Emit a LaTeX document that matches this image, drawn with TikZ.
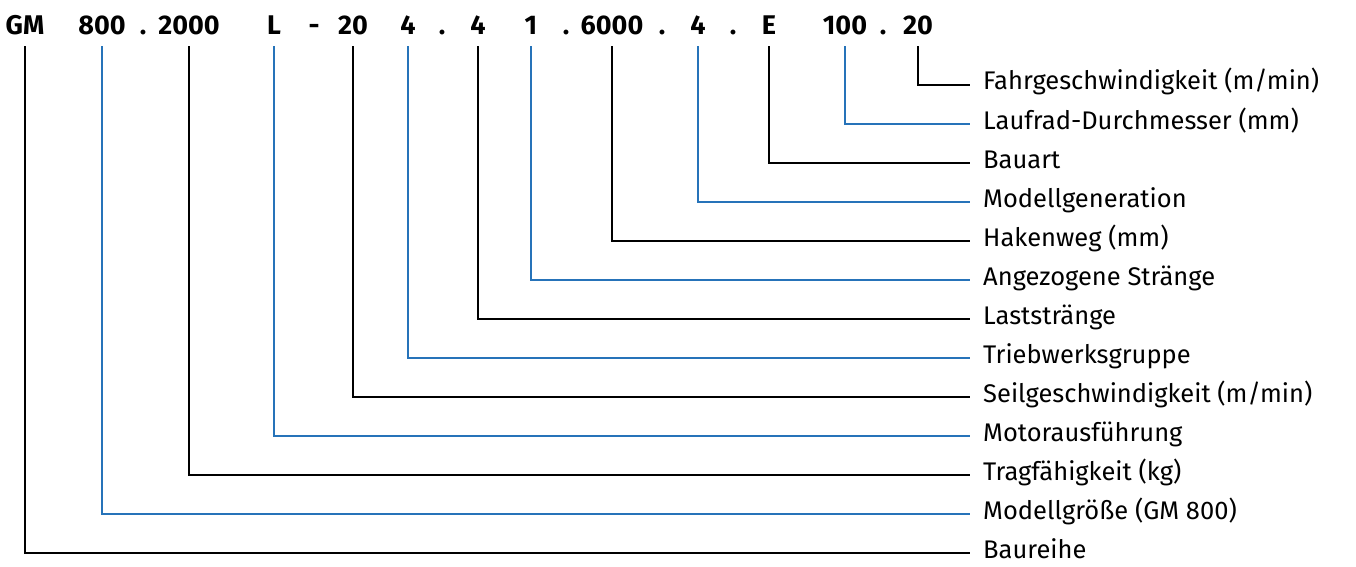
\documentclass[tikz,border=0pt]{standalone}
\usepackage{fontspec}
\setmainfont{Fira Sans}
\definecolor{linkblue}{RGB}{38,115,185}
\begin{document}
\begin{tikzpicture}[x=1pt,y=-1pt,
  code/.style={font=\bfseries\fontsize{27}{27}\selectfont,anchor=base,inner xsep=0pt,inner ysep=11pt,text depth=0pt},
  lbl/.style={font=\fontsize{25.5}{25.5}\selectfont,anchor=west,inner xsep=13pt,inner ysep=0pt,text height=17pt,text depth=7pt},
  blk/.style={draw=black,line width=1.3pt},
  blu/.style={draw=linkblue,line width=1.3pt}]
\useasboundingbox (0,0) rectangle (1356,567);
% type code
\node[code] (gm) at (25,35) {GM};
\node[code] (size) at (102,35) {800};
\node[code] (dotA) at (143,35) {.};
\node[code] (load) at (189,35) {2000};
\node[code] (motor) at (274,35) {L};
\node[code] (dash) at (314,35) {-};
\node[code] (rope) at (353,35) {20};
\node[code] (group) at (408,35) {4};
\node[code] (dotB) at (442,35) {.};
\node[code] (falls) at (478,35) {4};
\node[code] (pulled) at (531,35) {1};
\node[code] (dotC) at (566,35) {.};
\node[code] (hook) at (612,35) {6000};
\node[code] (dotD) at (662,35) {.};
\node[code] (gen) at (698,35) {4};
\node[code] (dotE) at (733,35) {.};
\node[code] (design) at (769,35) {E};
\node[code] (wheel) at (845,35) {100};
\node[code] (dotF) at (883,35) {.};
\node[code] (travel) at (918,35) {20};
% meanings
\node[lbl] (lTravel) at (970,85) {Fahrgeschwindigkeit (m/min)};
\node[lbl] (lWheel) at (970,124) {Laufrad-Durchmesser (mm)};
\node[lbl] (lDesign) at (970,163) {Bauart};
\node[lbl] (lGen) at (970,202) {Modellgeneration};
\node[lbl] (lHook) at (970,241) {Hakenweg (mm)};
\node[lbl] (lPulled) at (970,280) {Angezogene Stränge};
\node[lbl] (lFalls) at (970,319) {Laststränge};
\node[lbl] (lGroup) at (970,358) {Triebwerksgruppe};
\node[lbl] (lRope) at (970,397) {Seilgeschwindigkeit (m/min)};
\node[lbl] (lMotor) at (970,436) {Motorausführung};
\node[lbl] (lLoad) at (970,475) {Tragfähigkeit (kg)};
\node[lbl] (lSize) at (970,514) {Modellgröße (GM 800)};
\node[lbl] (lGm) at (970,553) {Baureihe};
% connectors
\draw[blk] (travel.south) |- (lTravel.west);
\draw[blu] (wheel.south) |- (lWheel.west);
\draw[blk] (design.south) |- (lDesign.west);
\draw[blu] (gen.south) |- (lGen.west);
\draw[blk] (hook.south) |- (lHook.west);
\draw[blu] (pulled.south) |- (lPulled.west);
\draw[blk] (falls.south) |- (lFalls.west);
\draw[blu] (group.south) |- (lGroup.west);
\draw[blk] (rope.south) |- (lRope.west);
\draw[blu] (motor.south) |- (lMotor.west);
\draw[blk] (load.south) |- (lLoad.west);
\draw[blu] (size.south) |- (lSize.west);
\draw[blk] (gm.south) |- (lGm.west);
\end{tikzpicture}
\end{document}
